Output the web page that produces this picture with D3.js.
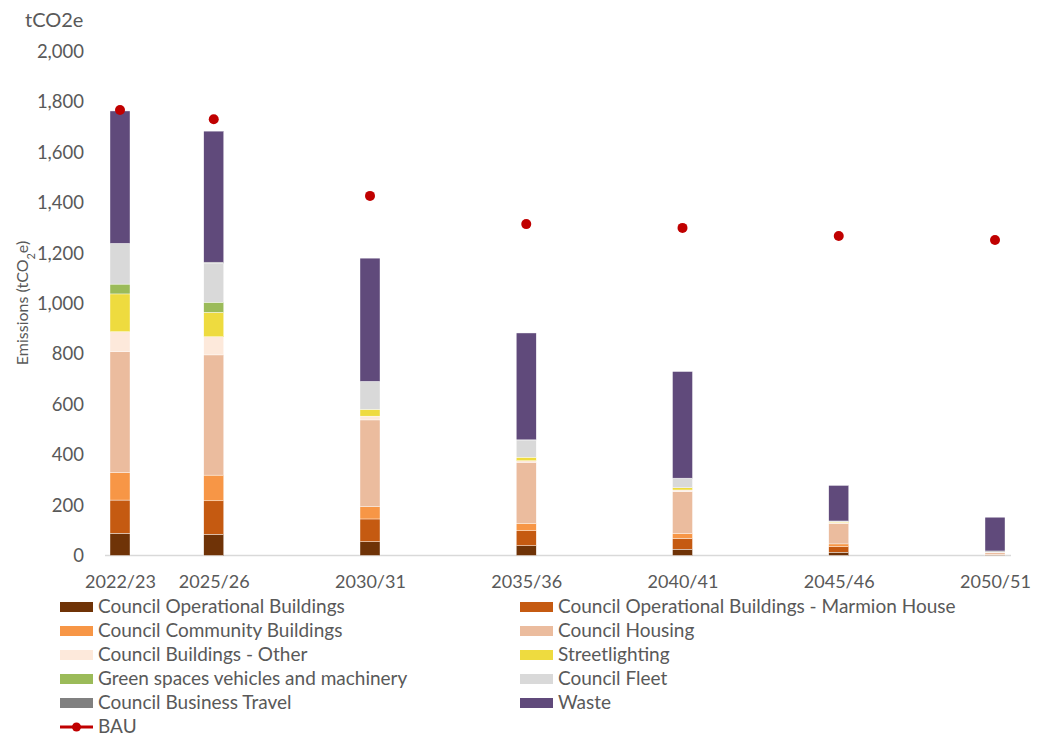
<!DOCTYPE html>
<html><head><meta charset="utf-8">
<script src="https://cdn.jsdelivr.net/npm/d3@7"></script>
<style>body{margin:0;background:#fff;} svg{display:block;font-family:Lato,"Open Sans",sans-serif;}</style>
</head><body>
<svg id="chart" width="1040" height="737"></svg>
<script>
const categories = ["2022/23","2025/26","2030/31","2035/36","2040/41","2045/46","2050/51"];
const years = [2022,2025,2030,2035,2040,2045,2050];
const seriesNames = ["Council Operational Buildings","Council Operational Buildings - Marmion House","Council Community Buildings","Council Housing","Council Buildings - Other","Streetlighting","Green spaces vehicles and machinery","Council Fleet","Council Business Travel","Waste"];
const seriesColors = ["#6F3307","#C55A11","#F79646","#EBBC9E","#FDE9DB","#EEDB3F","#9BBB59","#D9D9D9","#808080","#604A7B"];
const opBuildings = [88,84,55,39,25,13,2];
const marmion = [132,133,90,59,43,22,1];
const community = [110,102,49,30,20,11,1];
const housing = [479,477,344,242,165,82,8];
const bldgOther = [79,72,15,6,7,3,1];
const streetlighting = [150,97,27,14,9,3,0];
const greenSpaces = [39,40,0,0,0,0,0];
const fleet = [160,155,110,68,37,2,2];
const businessTravel = [2,4,1,1,1,1,3];
const waste = [525,520,489,424,423,141,134];
const bau = [1768,1731,1427,1315,1300,1268,1252];
const yTicks = [0,200,400,600,800,1000,1200,1400,1600,1800,2000];

const seriesValues = [opBuildings,marmion,community,housing,bldgOther,streetlighting,greenSpaces,fleet,businessTravel,waste];

const svg = d3.select("#chart");
const textColor = "#595959";
const FONT = "Lato,'Open Sans',sans-serif";

const x = d3.scaleLinear().domain([2022,2050]).range([120,995]);
const y = d3.scaleLinear().domain([0,2000]).range([555.5,51.5]);
const barW = 20;

const table = categories.map((c,i)=>{
  const row = {cat:c, year:years[i]};
  seriesNames.forEach((n,k)=>row[n]=seriesValues[k][i]);
  return row;
});
const stack = d3.stack().keys(seriesNames)(table);

// axis baseline
svg.append("line").attr("x1",x(2022)-15).attr("x2",x(2050)+16)
  .attr("y1",y(0)).attr("y2",y(0)).attr("stroke","#D9D9D9").attr("stroke-width",1.5);

// bars
stack.forEach((layer,k)=>{
  svg.append("g").selectAll("rect").data(layer).join("rect")
    .attr("x",d=>x(d.data.year)-barW/2)
    .attr("width",barW)
    .attr("y",d=>y(d[1]))
    .attr("height",d=>Math.max(0,y(d[0])-y(d[1])))
    .attr("fill",seriesColors[k])
    .attr("stroke","#ffffff").attr("stroke-width",0.4);
});

// BAU points
svg.append("g").selectAll("circle").data(bau).join("circle")
  .attr("cx",(d,i)=>x(years[i])).attr("cy",d=>y(d)).attr("r",5).attr("fill","#C00000");

// y axis labels
const yAxis = d3.axisLeft(y).tickValues(yTicks).tickFormat(d3.format(",")).tickSize(0).tickPadding(0);
const gy = svg.append("g").attr("transform","translate(84,0)").call(yAxis);
gy.select(".domain").remove();
gy.selectAll("text").attr("fill",textColor).style("font-size","18.5px").style("font-family",FONT);

// x axis labels
const xAxis = d3.axisBottom(x).tickValues(years).tickFormat((d,i)=>categories[i]).tickSize(0).tickPadding(0);
const gx = svg.append("g").attr("transform",`translate(0,${588 - 0.71*18})`).call(xAxis);
gx.select(".domain").remove();
gx.selectAll("text").attr("fill",textColor).style("font-size","18px").style("font-family",FONT);

// unit label at top
svg.append("text").attr("x",25).attr("y",27).attr("fill",textColor)
  .style("font-size","20px").text("tCO2e");

// y-axis title
const yt = svg.append("text").attr("transform","translate(28,303) rotate(-90)")
  .attr("text-anchor","middle").attr("fill",textColor).style("font-size","16px");
yt.append("tspan").text("Emissions (tCO");
yt.append("tspan").attr("baseline-shift","sub").style("font-size","11px").text("2");
yt.append("tspan").text("e)");

// legend
const legX = [60,520];
const legBase0 = 613, legDy = 24;
seriesNames.forEach((n,k)=>{
  const col = k%2, row = Math.floor(k/2);
  const b = legBase0 + row*legDy;
  svg.append("rect").attr("x",legX[col]).attr("y",b-11).attr("width",33).attr("height",10).attr("fill",seriesColors[k]);
  svg.append("text").attr("x",legX[col]+38).attr("y",b).attr("fill",textColor)
    .style("font-size","19px").text(n);
});
const bauB = legBase0 + 5*legDy;
svg.append("line").attr("x1",legX[0]).attr("x2",legX[0]+33).attr("y1",bauB-6).attr("y2",bauB-6)
  .attr("stroke","#C00000").attr("stroke-width",3);
svg.append("circle").attr("cx",legX[0]+16.5).attr("cy",bauB-6).attr("r",4.5).attr("fill","#C00000");
svg.append("text").attr("x",legX[0]+38).attr("y",bauB).attr("fill",textColor).style("font-size","19px").text("BAU");
</script>
</body></html>
